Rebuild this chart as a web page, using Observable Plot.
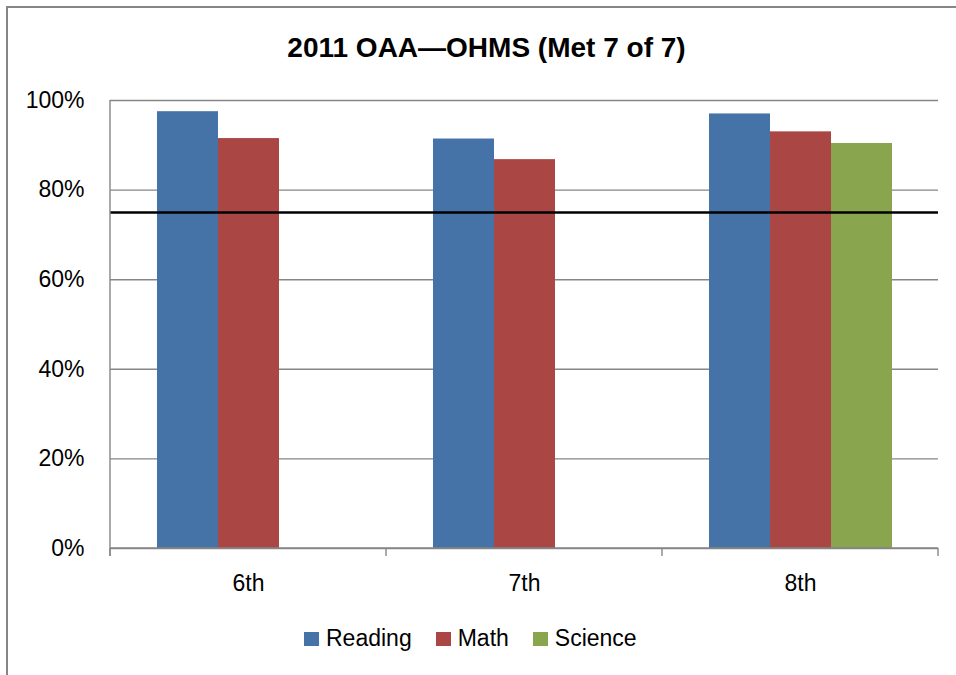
<!DOCTYPE html>
<html>
<head>
<meta charset="utf-8">
<script src="https://cdn.jsdelivr.net/npm/d3@7"></script>
<script src="https://cdn.jsdelivr.net/npm/@observablehq/plot@0.6"></script>
<style>
  body { margin: 0; background: #fff; }
  #wrap { position: relative; width: 956px; height: 675px; overflow: hidden; font-family: "Liberation Sans", Arial, sans-serif; }
  #border { position: absolute; left: 6px; top: 6px; width: 1000px; height: 720px; border: 2px solid #868686; box-sizing: border-box; }
  #title { position: absolute; left: 0; width: 973px; top: 34px; text-align: center; font-size: 28px; line-height: 28px; font-weight: bold; color: #000; }
  #chart { position: absolute; left: 0; top: 0; }
  #legend { position: absolute; left: 304px; top: 627px; font-size: 23px; line-height: 23px; white-space: nowrap; color: #000; }
  #legend .item { display: inline-block; margin-right: 24px; }
  #legend .sw { display: inline-block; width: 15px; height: 14.5px; margin-right: 7px; vertical-align: baseline; }
</style>
</head>
<body>
<div id="wrap">
  <div id="border"></div>
  <div id="chart"></div>
  <div id="title"></div>
  <div id="legend"></div>
</div>
<script>
const titleText = "2011 OAA\u2014OHMS (Met 7 of 7)";
const grades = ["6th", "7th", "8th"];
const subjects = ["Reading", "Math", "Science"];
const colors = ["#4572A7", "#AA4643", "#89A54E"];
const reading = [0.975, 0.914, 0.970];
const math = [0.915, 0.868, 0.930];
const science = [null, null, 0.904];
const benchmark = [0.75];
const yTicks = [0, 0.2, 0.4, 0.6, 0.8, 1];

const series = [reading, math, science];
const rows = [];
grades.forEach((g, i) => {
  subjects.forEach((s, j) => {
    const v = series[j][i];
    if (v != null) rows.push({grade: g, subject: s, value: v});
  });
});

const W = 956, H = 675;
const gray = "#868686";

const plot = Plot.plot({
  width: W,
  height: H,
  marginLeft: 109,
  marginRight: 18,
  marginTop: 100,
  marginBottom: 127,
  style: {fontFamily: "Liberation Sans, Arial, sans-serif", fontSize: "23px", color: "#000", background: "transparent"},
  fx: {domain: grades, padding: 0, axis: "bottom", label: null, tickSize: 0, tickPadding: 26},
  x: {domain: subjects, paddingInner: 0, paddingOuter: 0.75, axis: null},
  y: {domain: [0, 1], ticks: yTicks, tickFormat: d3.format(".0%"), label: null, tickSize: 0, tickPadding: 26},
  color: {domain: subjects, range: colors},
  marks: [
    Plot.ruleY(yTicks, {stroke: gray, strokeWidth: 1.4}),
    Plot.barY(rows, {fx: "grade", x: "subject", y: "value", fill: "subject"}),
    Plot.ruleY(benchmark, {stroke: "#000", strokeWidth: 2.5})
  ]
});
document.getElementById("chart").appendChild(plot);

// axis lines and category boundary ticks, placed through the plot's own scales
const fx = plot.scale("fx");
const y = plot.scale("y");
const svg = d3.select(plot);
const y0 = y.apply(0), y1 = y.apply(1);
const bounds = grades.map(g => fx.apply(g));
bounds.push(fx.apply(grades[grades.length - 1]) + fx.bandwidth);
const left = bounds[0];
svg.append("line").attr("x1", left).attr("x2", left).attr("y1", y1).attr("y2", y0 + 8)
  .attr("stroke", gray).attr("stroke-width", 1.4);
svg.append("line").attr("x1", left).attr("x2", bounds[bounds.length - 1]).attr("y1", y0).attr("y2", y0)
  .attr("stroke", gray).attr("stroke-width", 1.4);
bounds.forEach(b => {
  svg.append("line").attr("x1", b).attr("x2", b).attr("y1", y0).attr("y2", y0 + 8)
    .attr("stroke", gray).attr("stroke-width", 1.4);
});

document.getElementById("title").textContent = titleText;
const legend = document.getElementById("legend");
subjects.forEach((s, i) => {
  const item = document.createElement("span");
  item.className = "item";
  const sw = document.createElement("span");
  sw.className = "sw";
  sw.style.background = colors[i];
  item.appendChild(sw);
  item.appendChild(document.createTextNode(s));
  legend.appendChild(item);
});
</script>
</body>
</html>
